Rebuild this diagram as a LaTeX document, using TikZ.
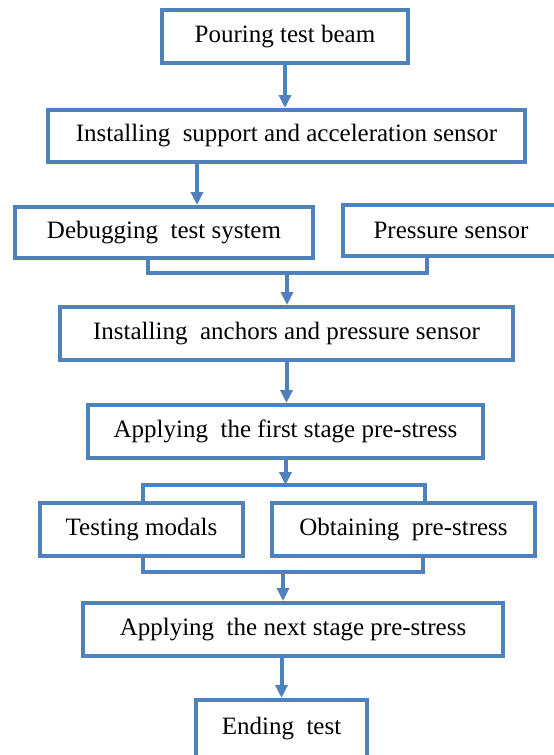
\documentclass[tikz,border=0pt]{standalone}
\usepackage{fontspec}
\setmainfont{Liberation Serif}
\usetikzlibrary{arrows.meta}
\definecolor{boxblue}{RGB}{79,129,189}
\begin{document}
\begin{tikzpicture}
[x=1pt,y=-1pt,
 stepbox/.style={draw=boxblue,line width=4pt,inner sep=0pt,
   font=\fontsize{25}{29}\selectfont},
 flowline/.style={draw=boxblue,line width=4pt},
 flowarrow/.style={flowline,-{Triangle[width=12pt,length=13pt]}}]
\path[use as bounding box,clip] (0,0) rectangle (554,755);
%% the boxes, given by left/top/right/bottom
\foreach \name/\xl/\yt/\xr/\yb/\txt in {
  pour/162/10/408/63/Pouring test beam,
  supp/48/110/525/162/Installing\ \ support and acceleration sensor,
  debug/15/207/313/258/Debugging\ \ test system,
  press/343/205/559/256/Pressure sensor,
  anch/60/307/513/360/Installing\ \ anchors and pressure sensor,
  first/88/405/483/458/Applying\ \ the first stage pre-stress,
  modal/40/503/243/556/Testing modals,
  obtain/272/503/535/556/Obtaining\ \ pre-stress,
  next/83/603/503/656/Applying\ \ the next stage pre-stress,
  ending/196/700/367/758/Ending\ \ test} {
  \node[stepbox,minimum width={(\xr-\xl)*1pt},minimum height={(\yb-\yt)*1pt}]
    (\name) at ({(\xl+\xr)/2},{(\yt+\yb)/2}) {\txt};
}
%% joints of the connectors
\coordinate (a1) at (197,0);
\coordinate (j1) at (148,273);
\coordinate (j2) at (427,273);
\coordinate (jm) at (287,273);
\coordinate (s1) at (143,485);
\coordinate (s2) at (425,485);
\coordinate (m1) at (143,572);
\coordinate (m2) at (423,572);
\coordinate (mm) at (283,572);
%% the connectors
\draw[flowarrow] (pour.south) -- (pour.south |- supp.north);
\draw[flowarrow] (supp.south -| a1) -- (debug.north -| a1);
\draw[flowline] (debug.south -| j1) |- (j2) -- (press.south -| j2);
\draw[flowarrow] (jm) -- (jm |- anch.north);
\draw[flowarrow] (anch.south) -- (anch.south |- first.north);
\draw[flowarrow] (first.south) -- (first.south |- s1);
\draw[flowline] (modal.north -| s1) |- (s2) -- (obtain.north -| s2);
\draw[flowline] (modal.south -| m1) |- (m2) -- (obtain.south -| m2);
\draw[flowarrow] (mm) -- (mm |- next.north);
\draw[flowarrow] (next.south -| ending.north) -- (ending.north);
\end{tikzpicture}
\end{document}
